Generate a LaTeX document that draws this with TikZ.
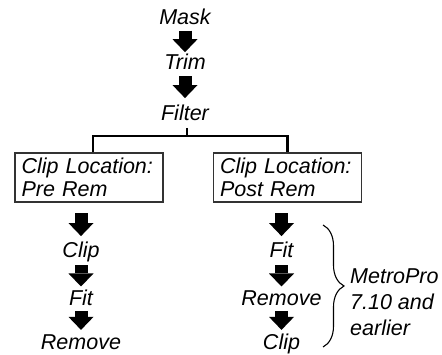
\documentclass[tikz,border=0pt]{standalone}
\usepackage{fontspec}
\setmainfont{Liberation Sans}
\usepackage{xcolor}
\definecolor{ink}{HTML}{000000}
\definecolor{frame}{HTML}{333333}
\usepackage{tikz}
\usetikzlibrary{arrows.meta,positioning,decorations.pathreplacing}

\begin{document}
\begin{tikzpicture}[node distance=30pt,every node/.style={font=\fontsize{21.5pt}{23pt}\selectfont\itshape}]
\useasboundingbox (0,0) rectangle (442pt,-355pt);
\tikzstyle{stage}=[inner sep=0pt,text height=15pt,text depth=0pt]
\tikzstyle{locbox}=[draw=frame,line width=1.2pt,minimum width=148pt,minimum height=49pt,text width=135pt,align=left,inner xsep=6.5pt]
\tikzstyle{flow}=[ink,line width=13pt,-{Triangle[length=13pt,width=25pt,line width=0pt]}]
\tikzstyle{tree}=[ink,line width=2.8pt]
\node[stage] (mask) at (185pt,-17pt) {Mask};
\node[stage,below=30pt of mask] (trim) {Trim};
\node[stage,below=35pt of trim] (filter) {Filter};
\node[locbox] (prebox) at (89pt,-177.5pt) {Clip Location:\\Pre Rem};
\node[locbox] (postbox) at (287.5pt,-177.5pt) {Clip Location:\\Post Rem};
\coordinate[below=15.5pt of filter,xshift=2pt] (split);
\node[stage,below=39.5pt of prebox,xshift=-8pt] (clipa) {Clip};
\node[stage,below=33pt of clipa] (fita) {Fit};
\node[stage,below=28pt of fita] (removea) {Remove};
\node[stage,below=39.5pt of postbox,xshift=-6pt] (fitb) {Fit};
\node[stage,below=33pt of fitb] (removeb) {Remove};
\node[stage,below=28pt of removeb] (clipb) {Clip};
% top chain
\draw[flow,shorten <=6pt,shorten >=2.5pt] (mask) -- (trim);
\draw[flow,shorten <=6pt,shorten >=7pt] (trim) -- (filter);
% split to the two boxes
\draw[tree,shorten <=7.5pt] (filter.south -| split) -- (split);
\draw[tree] ([xshift=4pt]prebox.north) |- (split) -| (postbox.north);
% pre rem column
\draw[flow,shorten <=10.5pt,shorten >=6pt] (clipa |- prebox.south) -- (clipa);
\draw[flow,shorten <=8pt,shorten >=4pt] (clipa) -- (fita);
\draw[flow,shorten <=5pt,shorten >=4pt] (fita) -- (removea);
% post rem column
\draw[flow,shorten <=10.5pt,shorten >=6pt] (fitb |- postbox.south) -- (fitb);
\draw[flow,shorten <=8pt,shorten >=4pt] (fitb) -- (removeb);
\draw[flow,shorten <=5pt,shorten >=4pt] (removeb) -- (clipb);
% brace and note
\coordinate (bracetop) at (323pt,-225pt);
\coordinate (bracebot) at (323pt,-347pt);
\draw[ink,line width=1.1pt,decorate,decoration={brace,amplitude=21pt}] (bracetop) -- (bracebot);
\node[anchor=west,align=left,inner sep=0pt,font=\fontsize{21.5pt}{26pt}\selectfont\itshape] (note) at (350pt,-302pt) {MetroPro\\7.10 and\\earlier};
\end{tikzpicture}
\end{document}
